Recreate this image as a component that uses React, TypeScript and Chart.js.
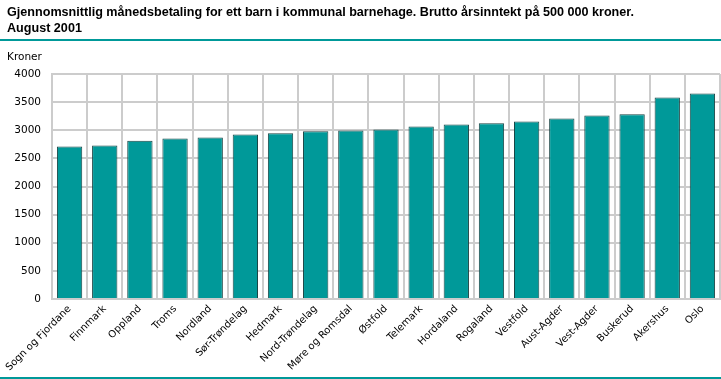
import React, { useEffect, useRef } from "react";
import { Chart, registerables } from "chart.js";

Chart.register(...registerables);

const categories = [
  "Sogn og Fjordane", "Finnmark", "Oppland", "Troms", "Nordland", "Sør-Trøndelag",
  "Hedmark", "Nord-Trøndelag", "Møre og Romsdal", "Østfold", "Telemark", "Hordaland",
  "Rogaland", "Vestfold", "Aust-Agder", "Vest-Agder", "Buskerud", "Akershus", "Oslo",
];
const values = [
  2710, 2730, 2815, 2852, 2872, 2925, 2948, 2984, 2996, 3014, 3067, 3103,
  3126, 3156, 3209, 3263, 3286, 3583, 3654,
];
const yMin = 0;
const yMax = 4000;
const yStep = 500;
const titleLines = [
  "Gjennomsnittlig månedsbetaling for ett barn i kommunal barnehage. Brutto årsinntekt på 500 000 kroner.",
  "August 2001",
];
const yUnit = "Kroner";

const TEAL = "#009999";
const GRID = "#cccccc";
const FONT = "'DejaVu Sans', sans-serif";

export default function App() {
  const ref = useRef<HTMLCanvasElement | null>(null);
  useEffect(() => {
    const canvas = ref.current;
    if (!canvas) return;
    const chart = new Chart(canvas, {
      type: "bar",
      data: {
        labels: categories,
        datasets: [
          {
            data: values,
            backgroundColor: TEAL,
            borderColor: "#1a4444",
            borderWidth: 1,
            categoryPercentage: 0.72,
            barPercentage: 1,
          },
        ],
      },
      options: {
        animation: false,
        responsive: false,
        maintainAspectRatio: false,
        layout: { padding: { top: 74, right: 1, left: 0, bottom: 0 } },
        plugins: { legend: { display: false }, tooltip: { enabled: false }, title: { display: false } },
        scales: {
          x: {
            offset: true,
            grid: { color: GRID, lineWidth: 2, offset: true, drawTicks: false },
            border: { color: GRID, width: 2 },
            ticks: {
              autoSkip: false,
              maxRotation: 45,
              minRotation: 45,
              padding: 4,
              color: "#000",
              font: { family: FONT, size: 10 },
            },
            afterFit: (s: any) => { s.height = 80; },
          },
          y: {
            min: yMin,
            max: yMax,
            ticks: {
              stepSize: yStep,
              padding: 11,
              color: "#000",
              font: { family: FONT, size: 10.5 },
              callback: (v: any) => String(v),
            },
            grid: { color: GRID, lineWidth: 2, drawTicks: false },
            border: { color: GRID, width: 2 },
            afterFit: (s: any) => { s.width = 52; },
          },
        },
      },
    });
    return () => chart.destroy();
  }, []);

  return (
    <div style={{ position: "fixed", left: 0, top: 0, width: 721, height: 379, background: "#fff", overflow: "hidden" }}>
      <canvas ref={ref} width={721} height={379} style={{ position: "absolute", left: 0, top: 0, width: 721, height: 379 }} />
      <div
        style={{
          position: "absolute", left: 7, top: 4, fontFamily: "'Liberation Sans Narrow', 'Liberation Sans', sans-serif",
          fontWeight: "bold", fontSize: 12.6, lineHeight: "16px", color: "#000", whiteSpace: "nowrap",
        }}
      >
        {titleLines.map((t, i) => (<div key={i}>{t}</div>))}
      </div>
      <div style={{ position: "absolute", left: 0, top: 39, width: 721, height: 2, background: TEAL }} />
      <div style={{ position: "absolute", left: 7, top: 50, fontFamily: FONT, fontSize: 10.5, color: "#000" }}>{yUnit}</div>
      <div style={{ position: "absolute", left: 0, top: 377, width: 721, height: 2, background: TEAL }} />
    </div>
  );
}
